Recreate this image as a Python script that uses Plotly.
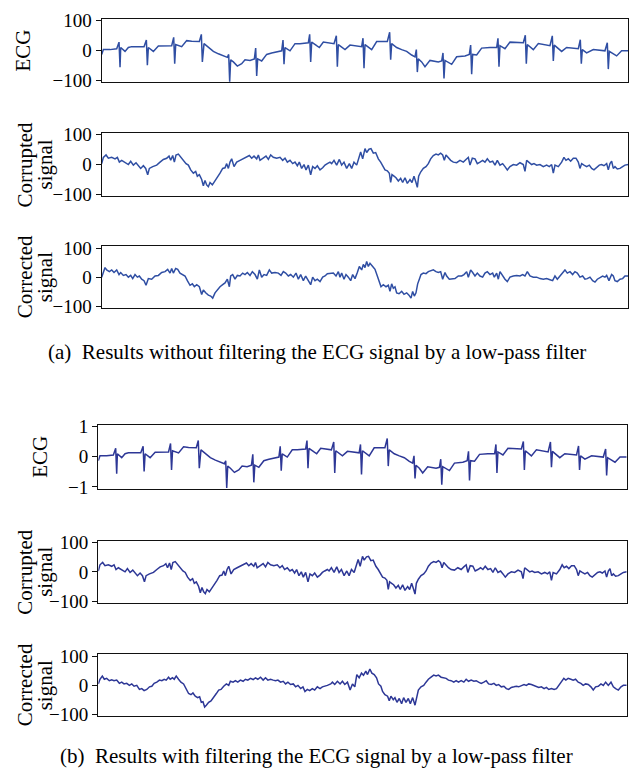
import plotly.graph_objects as go

# ---------------- data ----------------
# ECG time samples (shared by panels a and b)
ecg_t = [0, 5, 25, 45,
         52, 55, 57, 70, 80, 90, 127,
         134, 137, 140, 155, 170, 210,
         216, 219, 222, 240, 255, 270, 293,
         299, 302, 307, 320, 335, 350, 365, 377,
         381, 384, 387, 395, 407, 420, 430, 445, 458,
         462, 465, 468, 480, 495, 510, 525, 540,
         544, 547, 550, 565, 580, 595, 620,
         624, 627, 630, 645, 653, 665, 697,
         704, 707, 710, 730, 745, 780,
         784, 787, 790, 810, 825, 857,
         864, 867, 870, 885, 900, 915, 930, 940,
         944, 947, 950, 960, 970, 985, 1010, 1020,
         1024, 1027, 1030, 1050, 1065, 1090, 1103,
         1107, 1110, 1113, 1125, 1140, 1165, 1185,
         1189, 1192, 1195, 1210, 1225, 1265,
         1271, 1274, 1277, 1295, 1310, 1345,
         1352, 1355, 1358, 1380, 1395, 1430,
         1436, 1439, 1442, 1455, 1475, 1510,
         1517, 1520, 1523, 1545, 1560, 1580]

ecg_a = [-13, 3, 3, 6,
         28, -56, 10, -3, 10, 13, 13,
         35, -49, 10, -3, 15, 16,
         44, -44, 20, 13, 33, 31, 30,
         54, -38, 23, 10, -3, -11, -18, -23,
         -13, -104, -31, -38, -52, -44, -31, -33, -28,
         8, -85, -28, -35, -13, -8, -5, -1,
         35, -46, 10, -1, 23, 23, 26,
         54, -38, 28, 16, 10, 28, 23,
         49, -54, 20, 3, 18, 13,
         41, -59, 20, 3, 30, 30,
         61, -31, 23, 10, 3, -3, -15, -21,
         3, -72, -28, -38, -54, -33, -38, -35,
         -8, -93, -33, -46, -21, -18, -13,
         18, -79, -13, -15, 8, 10, 10,
         41, -54, 16, 6, 28, 26,
         51, -44, 20, 3, 23, 16,
         49, -35, 18, -3, 10, 6,
         36, -44, 3, -8, 3, -1,
         26, -62, -3, -18, -1, -1]

ecg_b = [-0.13, 0.03, 0.03, 0.06,
         0.28, -0.56, 0.10, -0.03, 0.10, 0.13, 0.13,
         0.35, -0.49, 0.10, -0.03, 0.15, 0.16,
         0.44, -0.44, 0.20, 0.13, 0.33, 0.31, 0.30,
         0.54, -0.38, 0.23, 0.10, -0.03, -0.11, -0.18, -0.23,
         -0.13, -1.04, -0.31, -0.38, -0.52, -0.44, -0.31, -0.33, -0.28,
         0.08, -0.85, -0.28, -0.35, -0.13, -0.08, -0.05, -0.01,
         0.35, -0.46, 0.10, -0.01, 0.23, 0.23, 0.26,
         0.54, -0.38, 0.28, 0.16, 0.10, 0.28, 0.23,
         0.49, -0.54, 0.20, 0.03, 0.18, 0.13,
         0.41, -0.59, 0.20, 0.03, 0.30, 0.30,
         0.61, -0.31, 0.23, 0.10, 0.03, -0.03, -0.15, -0.21,
         0.03, -0.72, -0.28, -0.38, -0.54, -0.33, -0.38, -0.35,
         -0.08, -0.93, -0.33, -0.46, -0.21, -0.18, -0.13,
         0.18, -0.79, -0.13, -0.15, 0.08, 0.10, 0.10,
         0.41, -0.54, 0.16, 0.06, 0.28, 0.26,
         0.51, -0.44, 0.20, 0.03, 0.23, 0.16,
         0.49, -0.35, 0.18, -0.03, 0.10, 0.06,
         0.36, -0.44, 0.03, -0.08, 0.03, -0.01,
         0.26, -0.62, -0.03, -0.18, -0.01, -0.01]

# Corrupted signal (same in panels a and b)
corr_t = [0, 5, 13, 20, 30, 40, 47, 53, 60, 70,
          80, 87, 95, 103, 110, 117, 125, 132, 138, 143,
          153, 165, 175, 185, 195, 202, 207, 213, 218, 223,
          230, 237, 245, 253, 260, 267, 275, 282, 287, 293,
          300, 305, 310, 315, 320, 325, 332, 340, 347, 355,
          363, 370, 375, 380, 385, 390, 397, 405, 415, 425,
          435, 443, 450, 457, 465, 470, 475, 485, 493, 500,
          507, 515, 525, 535, 543, 550, 557, 565, 573, 580,
          587, 593, 600, 607, 613, 620, 627, 633, 640, 647,
          655, 663, 670, 677, 685, 690, 697, 705, 713, 720,
          727, 735, 743, 750, 757, 765, 772, 777, 783, 790,
          795, 802, 808, 815, 822, 830, 837, 843, 850, 857,
          863, 867, 871, 877, 883, 890, 897, 903, 910, 917,
          925, 931, 937, 943, 947, 951, 957, 965, 973, 980,
          987, 995, 1003, 1010, 1017, 1023, 1028, 1033, 1040, 1047,
          1055, 1065, 1075, 1085, 1093, 1100, 1105, 1112, 1120, 1127,
          1135, 1143, 1150, 1157, 1165, 1173, 1180, 1187, 1195, 1203,
          1210, 1217, 1225, 1235, 1245, 1255, 1265, 1270, 1275, 1283,
          1290, 1297, 1305, 1315, 1325, 1335, 1343, 1350, 1355, 1360,
          1370, 1380, 1387, 1393, 1400, 1407, 1415, 1423, 1430, 1435,
          1440, 1447, 1455, 1463, 1470, 1477, 1485, 1493, 1500, 1507,
          1515, 1520, 1525, 1530, 1535, 1540, 1547, 1555, 1563, 1570,
          1580]
corr_v = [3, 24, 32, 21, 24, 19, 24, 8, 14, 8,
          0, 11, -2, 6, -2, -13, -4, -13, -34, -13,
          -7, -2, 8, 17, 21, 28, 14, 30, 8, 32,
          35, 24, 14, 3, -2, -18, -29, -23, -39, -34,
          -50, -71, -53, -68, -74, -60, -68, -55, -44, -29,
          -13, -11, 3, -13, 8, 19, -7, 8, 14, 19,
          24, 30, 21, 28, 19, 32, 14, 21, 28, 17,
          32, 24, 21, 24, 14, 21, 8, 14, 3, 8,
          -4, 8, -13, 0, -18, -2, -34, -7, -13, -4,
          -18, -11, -2, 3, 8, 3, 14, -2, 17, -2,
          8, -13, 3, -13, 8, -2, 24, 42, 19, 53,
          40, 51, 53, 38, 40, 19, 8, -2, -18, -21,
          -29, -60, -34, -39, -44, -55, -46, -60, -44, -63,
          -50, -60, -39, -60, -76, -39, -25, -13, -7, 3,
          19, 30, 35, 32, 38, 32, 14, 32, 21, 14,
          8, 6, 14, 8, 17, 24, -2, 21, 19, 3,
          8, 14, 8, 19, 8, 11, -2, 14, -2, 3,
          -7, -18, -7, 0, -2, 6, 0, -23, 14, 8,
          0, 3, -2, 0, -7, -2, -7, 0, -29, -2,
          -7, 8, 24, 14, 19, 11, 21, 21, 8, -13,
          3, -2, -7, -2, -13, -18, -11, -2, 0, -4,
          3, -18, 3, 11, -13, -7, -15, -13, -7, -2,
          0]

# Corrected signal, panel a (no low-pass filter)
corra_t = [0, 5, 10, 15, 23, 30, 37, 45, 52, 57,
           65, 73, 80, 87, 93, 100, 107, 113, 120, 127,
           133, 140, 150, 160, 170, 180, 190, 198, 205, 210,
           215, 222, 228, 235, 243, 250, 257, 265, 272, 278,
           285, 293, 300, 305, 312, 320, 327, 333, 340, 347,
           355, 363, 370, 377, 383, 387, 393, 400, 407, 415,
           423, 430, 437, 445, 452, 460, 467, 473, 480, 487,
           495, 503, 510, 520, 530, 538, 545, 552, 560, 567,
           575, 583, 590, 597, 605, 612, 620, 627, 633, 640,
           647, 655, 663, 670, 677, 685, 695, 703, 710, 715,
           720, 727, 733, 740, 747, 753, 760, 767, 773, 780,
           785, 790, 795, 800, 805, 813, 820, 827, 833, 838,
           845, 853, 860, 865, 870, 875, 880, 885, 892, 900,
           907, 915, 922, 928, 933, 938, 943, 948, 953, 958,
           965, 973, 980, 987, 995, 1003, 1010, 1017, 1023, 1030,
           1035, 1043, 1050, 1060, 1070, 1080, 1087, 1095, 1100, 1107,
           1113, 1120, 1127, 1135, 1143, 1150, 1157, 1165, 1173, 1178,
           1185, 1190, 1195, 1203, 1210, 1217, 1225, 1235, 1245, 1255,
           1263, 1270, 1277, 1285, 1295, 1305, 1315, 1325, 1335, 1345,
           1353, 1360, 1367, 1375, 1383, 1390, 1397, 1405, 1413, 1420,
           1427, 1435, 1443, 1450, 1457, 1465, 1473, 1480, 1487, 1495,
           1503, 1510, 1515, 1522, 1530, 1535, 1540, 1547, 1555, 1563,
           1570, 1580]
corra_v = [0, 19, 33, 25, 19, 25, 16, 25, 9, 16,
           6, 9, 0, 6, -5, 9, 0, 4, -7, -12,
           -28, -5, -7, 4, 6, 16, 19, 27, 14, 30,
           14, 30, 27, 14, 9, 4, -12, -28, -23, -33,
           -26, -33, -60, -44, -54, -62, -65, -72, -54, -44,
           -33, -26, -20, -7, -33, 4, 9, -7, 6, 4,
           14, 9, 16, 6, 19, 9, -7, 25, 0, 9,
           6, 25, 14, 16, 14, 6, 19, 14, 4, 9,
           0, 14, -7, 9, -12, 4, -15, -26, 0, -12,
           -7, -15, 0, 4, 12, 14, 14, 4, 19, 0,
           14, -7, 9, 0, -12, 9, -5, 16, 37, 25,
           44, 33, 54, 37, 48, 37, 27, 4, -17, -33,
           -26, -33, -28, -49, -23, -38, -33, -54, -57, -49,
           -59, -54, -62, -72, -49, -65, -54, -23, -7, 9,
           14, 12, 19, 22, 25, 19, 16, 19, -7, 16,
           4, -7, -7, -5, 4, 4, 9, 19, 0, 25,
           16, 4, 14, 4, 0, 14, 19, 9, 14, 0,
           14, -7, 19, 4, -7, -15, 0, 4, 6, 4,
           9, 4, 19, 4, 0, 0, -5, -7, -5, -9,
           -12, 4, -7, 4, 14, 25, 14, 19, 9, 19,
           14, 0, 4, -7, -5, 0, -12, -17, -7, 0,
           4, 0, 6, -12, 9, 4, -12, -15, -7, -5,
           4, 4]

# Corrected signal, panel b (with low-pass filter)
corrb_t = [0, 5, 12, 18, 25, 33, 40, 47, 55, 63,
           70, 77, 85, 93, 100, 107, 115, 123, 130, 137,
           145, 153, 160, 167, 175, 183, 190, 197, 203, 210,
           215, 222, 227, 233, 240, 247, 255, 263, 270, 277,
           283, 290, 297, 303, 308, 313, 318, 323, 330, 337,
           345, 353, 360, 367, 375, 383, 390, 395, 403, 410,
           417, 425, 433, 440, 447, 455, 463, 470, 477, 485,
           493, 500, 507, 515, 523, 530, 537, 545, 553, 560,
           567, 575, 583, 590, 597, 605, 612, 618, 625, 632,
           640, 647, 655, 663, 670, 677, 685, 695, 700, 707,
           715, 723, 730, 737, 745, 753, 760, 767, 773, 780,
           787, 793, 800, 805, 812, 818, 825, 832, 838, 845,
           850, 857, 865, 870, 875, 882, 887, 893, 900, 907,
           913, 920, 927, 933, 940, 947, 952, 957, 965, 973,
           980, 987, 995, 1003, 1010, 1017, 1025, 1033, 1040, 1047,
           1055, 1063, 1070, 1077, 1085, 1093, 1100, 1107, 1115, 1123,
           1130, 1137, 1145, 1153, 1160, 1167, 1175, 1183, 1190, 1197,
           1205, 1213, 1220, 1227, 1235, 1243, 1250, 1257, 1265, 1273,
           1280, 1287, 1295, 1303, 1310, 1317, 1325, 1333, 1340, 1347,
           1355, 1363, 1370, 1377, 1385, 1392, 1398, 1405, 1413, 1420,
           1427, 1435, 1443, 1450, 1457, 1465, 1473, 1480, 1487, 1495,
           1503, 1510, 1517, 1525, 1533, 1540, 1547, 1555, 1563, 1570,
           1580]
corrb_v = [5, 21, 32, 21, 24, 16, 19, 16, 18, 7,
           11, 5, 7, 0, 5, -3, 0, -14, -11, -18,
           -14, -5, -3, 7, 11, 18, 16, 21, 18, 28,
           21, 26, 21, 32, 21, 11, 5, -11, -28, -32,
           -26, -37, -42, -39, -58, -56, -74, -68, -58, -53,
           -42, -28, -16, -14, -3, 5, 0, 14, 11, 16,
           11, 18, 14, 21, 18, 24, 20, 26, 21, 28,
           18, 26, 18, 21, 18, 16, 18, 11, 14, 5,
           11, 3, 5, -5, 0, -11, -5, -21, -14, -18,
           -11, -16, -5, -11, -5, -3, 0, 5, 11, 3,
           14, 5, 14, 3, 11, -16, 5, -5, 37, 26,
           42, 35, 49, 37, 56, 42, 37, 26, 5, -3,
           -21, -32, -37, -53, -37, -49, -42, -58, -45, -63,
           -42, -58, -45, -63, -42, -68, -37, -16, -5, 0,
           11, 21, 28, 35, 32, 35, 28, 26, 24, 18,
           16, 11, 16, 11, 16, 11, 21, 14, 18, 14,
           16, 11, 7, 11, 16, 5, 3, 7, 0, 3,
           -5, -3, -11, -14, -7, -5, -3, -5, 0, 3,
           0, 5, 3, 0, -5, -7, -5, -11, -7, -14,
           -11, -14, -11, 0, 11, 24, 18, 24, 21, 18,
           21, 11, 7, 0, 5, 3, -5, -16, -5, -3,
           5, 0, 11, 0, 11, -5, -11, -16, -5, 0,
           0]

assert len(ecg_t) == len(ecg_a) == len(ecg_b), (len(ecg_t), len(ecg_a), len(ecg_b))
assert len(corr_t) == len(corr_v), (len(corr_t), len(corr_v))
assert len(corra_t) == len(corra_v), (len(corra_t), len(corra_v))
assert len(corrb_t) == len(corrb_v), (len(corrb_t), len(corrb_v))

ticks_big = [-100, 0, 100]
ticks_big_text = ["\u2212100", "0", "100"]
ticks_small = [-1, 0, 1]
ticks_small_text = ["\u22121", "0", "1"]

captions = ["(a)  Results without filtering the ECG signal by a low-pass filter",
            "(b)  Results with filtering the ECG signal by a low-pass filter"]

# ---------------- layout helpers ----------------
W, H = 633, 780
FONT = "Liberation Serif"
COL_A = "#2f4ea3"
COL_B = "#2d3796"

# (top px, bottom px, left px, right px)
boxes = [
    (10, 75, 101.7, 628.3),
    (126.7, 191.7, 101.7, 628.3),
    (243, 306, 101.7, 628.3),
    (425.7, 491, 98.3, 626.7),
    (544.3, 608, 98.3, 626.7),
    (660.7, 724, 98.3, 626.7),
]

series = [
    (ecg_t, ecg_a, COL_A, ticks_big, ticks_big_text, 106),
    (corr_t, corr_v, COL_A, ticks_big, ticks_big_text, 106),
    (corra_t, corra_v, COL_A, ticks_big, ticks_big_text, 106),
    (ecg_t, ecg_b, COL_B, ticks_small, ticks_small_text, 1.06),
    (corr_t, corr_v, COL_B, ticks_big, ticks_big_text, 106),
    (corrb_t, corrb_v, COL_B, ticks_big, ticks_big_text, 106),
]

fig = go.Figure()
layout = dict(
    width=W, height=H,
    margin=dict(l=0, r=0, t=0, b=0),
    paper_bgcolor="white", plot_bgcolor="white",
    showlegend=False,
    font=dict(family=FONT, size=19, color="black"),
)

for i, ((top, bot, left, right), (tx, vy, col, tv, tt, rng)) in enumerate(zip(boxes, series)):
    n = "" if i == 0 else str(i + 1)
    fig.add_trace(go.Scatter(x=tx, y=vy, mode="lines",
                             line=dict(color=col, width=1.5),
                             xaxis="x" + n, yaxis="y" + n,
                             hoverinfo="skip"))
    layout["xaxis" + n] = dict(
        domain=[left / W, right / W], anchor="y" + n,
        range=[0, 1580], showgrid=False, zeroline=False,
        showticklabels=False, ticks="",
        showline=True, mirror=True, linecolor="#111", linewidth=1.4,
    )
    layout["yaxis" + n] = dict(
        domain=[1 - bot / H, 1 - top / H], anchor="x" + n,
        range=[-rng, rng], showgrid=False, zeroline=False,
        tickvals=tv, ticktext=tt, ticks="outside", ticklen=5,
        tickcolor="#111", tickwidth=1.2,
        tickfont=dict(family=FONT, size=19, color="black"),
        showline=True, mirror=True, linecolor="#111", linewidth=1.4,
    )

annotations = []

def vtitle(text, xpx, top, bot):
    annotations.append(dict(
        text=text, x=xpx / W, y=1 - (top + bot) / 2 / H,
        xref="paper", yref="paper", xanchor="center", yanchor="middle",
        textangle=-90, showarrow=False,
        font=dict(family=FONT, size=21, color="black")))

# panel a titles
vtitle("ECG", 23, boxes[0][0], boxes[0][1])
vtitle("Corrupted", 25, boxes[1][0], boxes[1][1])
vtitle("signal", 45, boxes[1][0], boxes[1][1])
vtitle("Corrected", 25, boxes[2][0], boxes[2][1])
vtitle("signal", 45, boxes[2][0], boxes[2][1])
# panel b titles
vtitle("ECG", 40, boxes[3][0], boxes[3][1])
vtitle("Corrupted", 25, boxes[4][0], boxes[4][1])
vtitle("signal", 45, boxes[4][0], boxes[4][1])
vtitle("Corrected", 25, boxes[5][0], boxes[5][1])
vtitle("signal", 45, boxes[5][0], boxes[5][1])

for cap, ypx in zip(captions, [351, 765]):
    annotations.append(dict(
        text=cap, x=0.5, y=1 - ypx / H, xref="paper", yref="paper",
        xanchor="center", yanchor="middle", showarrow=False,
        font=dict(family=FONT, size=21, color="black")))

layout["annotations"] = annotations
fig.update_layout(**layout)
fig.write_html("out.html")
